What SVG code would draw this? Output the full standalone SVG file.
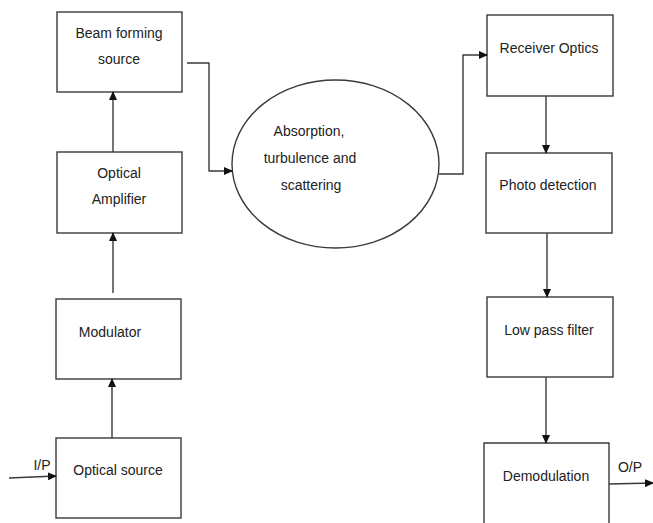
<svg xmlns="http://www.w3.org/2000/svg" width="653" height="523" viewBox="0 0 653 523">
<style>
.box{fill:#fff;stroke:#3a3a3a;stroke-width:1.4}
.lbl{font-family:"Liberation Sans",Arial,sans-serif;font-size:14px;fill:#222;text-anchor:middle}
.con{fill:none;stroke:#3a3a3a;stroke-width:1.4}
</style>
<defs>
<marker id="ah" markerWidth="9" markerHeight="8" refX="8" refY="4" orient="auto" markerUnits="userSpaceOnUse">
<path d="M0,0 L9,4 L0,8 z" fill="#111"/>
</marker>
</defs>
<rect width="653" height="523" fill="#fff"/>
<g id="beam"><rect class="box" x="57" y="12" width="125" height="80"/><text class="lbl" x="119" y="38">Beam forming</text><text class="lbl" x="119" y="64">source</text></g>
<g id="amp"><rect class="box" x="57" y="152" width="125" height="81"/><text class="lbl" x="119" y="178">Optical</text><text class="lbl" x="119" y="204">Amplifier</text></g>
<g id="mod"><rect class="box" x="56" y="299" width="125" height="80"/><text class="lbl" x="110" y="337">Modulator</text></g>
<g id="src"><rect class="box" x="56" y="438" width="125" height="80"/><text class="lbl" x="118" y="475">Optical source</text></g>
<g id="chan"><ellipse class="box" cx="335.5" cy="164" rx="103.5" ry="84"/><text class="lbl" x="309" y="136">Absorption,</text><text class="lbl" x="310" y="163">turbulence and</text><text class="lbl" x="311" y="190">scattering</text></g>
<g id="rx"><rect class="box" x="487" y="15" width="126" height="81"/><text class="lbl" x="549" y="53">Receiver Optics</text></g>
<g id="pd"><rect class="box" x="486" y="153" width="126" height="80"/><text class="lbl" x="548" y="190">Photo detection</text></g>
<g id="lpf"><rect class="box" x="487" y="297" width="126" height="80"/><text class="lbl" x="549" y="335">Low pass filter</text></g>
<g id="demod"><path class="box" d="M484,524 V443 H609 V524"/><text class="lbl" x="546" y="481">Demodulation</text></g>
<g id="connectors">
<path class="con" d="M9,478 L56,476" marker-end="url(#ah)"/>
<text class="lbl" x="42" y="470">I/P</text>
<path class="con" d="M112,438 V379" marker-end="url(#ah)"/>
<path class="con" d="M113,293 V233" marker-end="url(#ah)"/>
<path class="con" d="M113,152 V92" marker-end="url(#ah)"/>
<path class="con" d="M187,63 H209 V171 H232" marker-end="url(#ah)"/>
<path class="con" d="M439,174 H463 V55 H487" marker-end="url(#ah)"/>
<path class="con" d="M546,96 V153" marker-end="url(#ah)"/>
<path class="con" d="M547,233 V297" marker-end="url(#ah)"/>
<path class="con" d="M546,377 V443" marker-end="url(#ah)"/>
<path class="con" d="M609,484 L653,483" marker-end="url(#ah)"/>
<text class="lbl" x="630" y="472">O/P</text>
</g>
</svg>
